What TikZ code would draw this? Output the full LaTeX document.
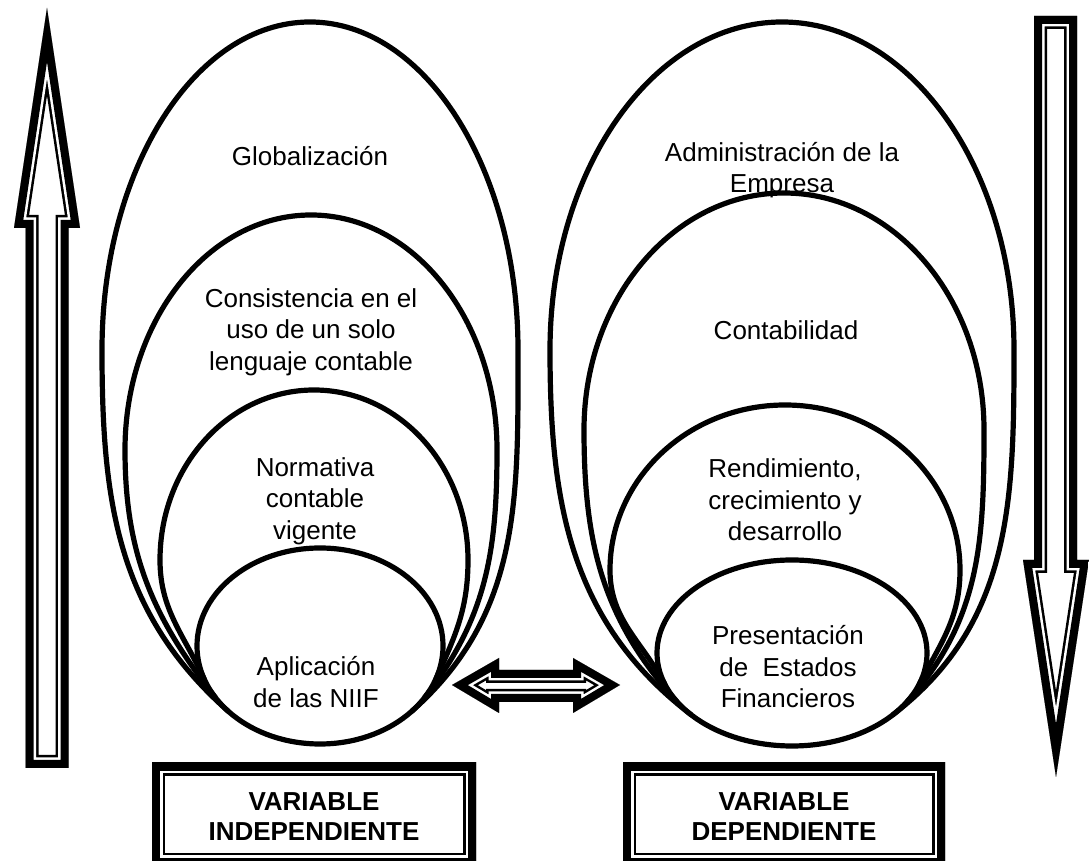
\documentclass[tikz,border=0pt]{standalone}
\usepackage{fontspec}
\setmainfont{Liberation Sans}
% outline with a thick outer band and a thin inner line, drawn inside the path
\newcommand\thickthin[1]{%
  \begin{scope}
    \clip #1;
    \fill[white] #1;
    \draw[line width=26pt] #1;
    \draw[white,line width=21pt] #1;
    \draw[line width=16pt] #1;
  \end{scope}}
\begin{document}
\begin{tikzpicture}[x=1pt,y=1pt,line join=miter,
  lbl/.style={font=\fontsize{26}{31.5}\selectfont,align=center,inner sep=0pt},
  varlbl/.style={font=\bfseries\fontsize{26}{30}\selectfont,align=center,inner sep=0pt},
  ring/.style={draw=black,line width=5.2pt}]
\useasboundingbox (0,0) rectangle (1089,861);

% labels of the left group
\node[lbl] (glob) at (310,705) {Globalización};
\node[lbl] (cons) at (311,529) {Consistencia en el\\uso de un solo\\lenguaje contable};
\node[lbl] (norm) at (315,360) {Normativa\\contable\\vigente};
\node[lbl] (apli) at (316,179) {Aplicación\\de las NIIF};

% labels of the right group
\node[lbl] (admi) at (782,691) {Administración de la\\Empresa};
\node[lbl] (cont) at (786,531) {Contabilidad};
\node[lbl] (rend) at (785,361) {Rendimiento,\\crecimiento y\\desarrollo};
\node[lbl] (pres) at (788,194) {Presentación\\de~~Estados\\Financieros};

% nested shapes, left group
\draw[ring] (228.6,149.4) to[out=138.5,in=-90] (102,511)
  arc[start angle=180,end angle=0,x radius=208,y radius=328]
  to[out=-90,in=41.5] (411.4,149.4);
\draw[ring] (215.7,163.1) to[out=128.1,in=-90] (125,411)
  arc[start angle=180,end angle=0,x radius=186,y radius=235]
  to[out=-90,in=51.9] (424.3,163.1);
\draw[ring] (204.4,181.5) to[out=114.6,in=-90] (160,301)
  arc[start angle=180,end angle=0,x radius=154,y radius=170]
  to[out=-90,in=65.4] (435.6,181.5);
\draw[ring] (320,215) ellipse[x radius=123,y radius=98];

% nested shapes, right group
\draw[ring] (691.7,145.8) to[out=142.6,in=-90] (550,511)
  arc[start angle=180,end angle=0,x radius=232,y radius=328]
  to[out=-90,in=37.4] (892.3,145.8);
\draw[ring] (677.5,158.7) to[out=132.2,in=-90] (584,431)
  arc[start angle=180,end angle=0,x radius=200,y radius=237]
  to[out=-90,in=47.8] (906.5,158.7);
\draw[ring] (665.1,176.2) to[out=117.9,in=-90] (610,291)
  arc[start angle=180,end angle=0,x radius=175,y radius=165]
  to[out=-90,in=62.1] (918.9,176.2);
\draw[ring] (792,208) ellipse[x radius=135,y radius=93];

% upward arrow on the left
\thickthin{(47,853) -- (80,633) -- (68.5,633) -- (68.5,93) -- (25.5,93) -- (25.5,633) -- (14,633) -- cycle}
% downward arrow on the right
\thickthin{(1034,845) -- (1077,845) -- (1077,301) -- (1089,301) -- (1056,84) -- (1023,301) -- (1034,301) -- cycle}
% two-headed arrow between the groups
\thickthin{(452,176) -- (499,203) -- (499,191) -- (573,191) -- (573,203) -- (620,176) -- (573,148) -- (573,159) -- (499,159) -- (499,148) -- cycle}

% variable boxes
\thickthin{(152,-5) rectangle (476,98)}
\thickthin{(623,-5) rectangle (945,98)}
\node[varlbl] (vind) at (314,44) {VARIABLE\\INDEPENDIENTE};
\node[varlbl] (vdep) at (784,44) {VARIABLE\\DEPENDIENTE};
\end{tikzpicture}
\end{document}
